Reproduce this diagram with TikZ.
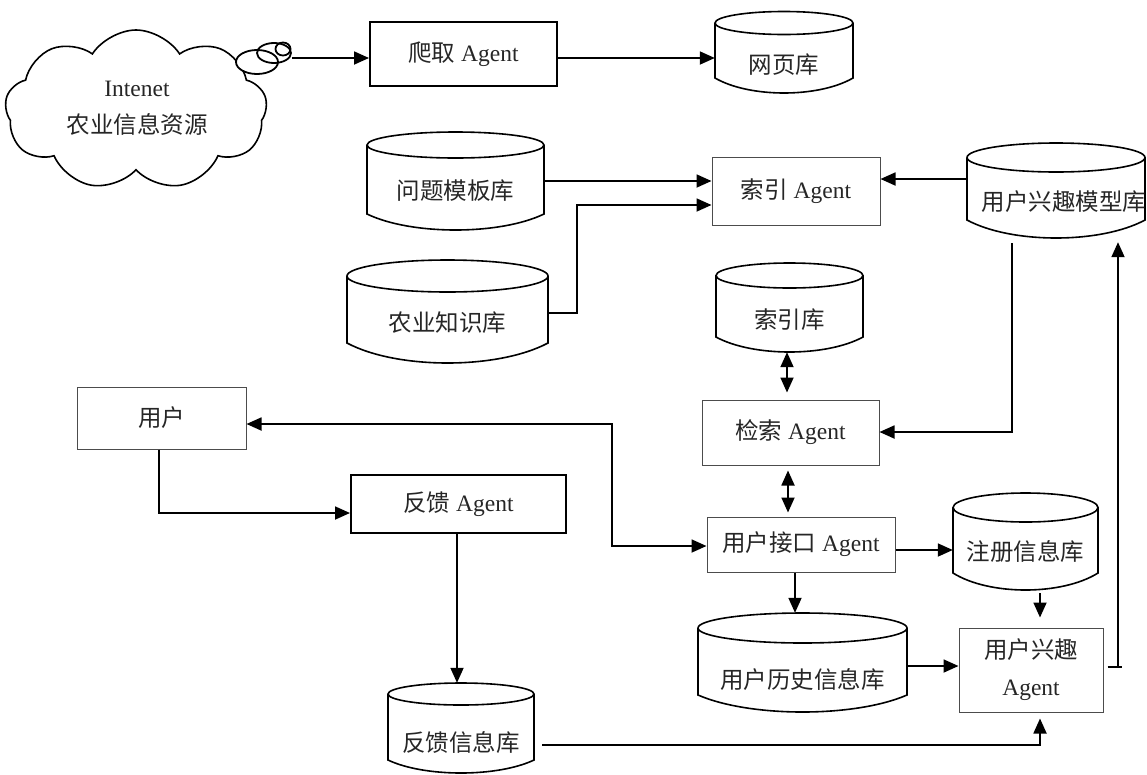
\documentclass[tikz,border=0pt]{standalone}
\usepackage{fontspec}
\setmainfont{Liberation Serif}
\newfontfamily\cjk{Noto Sans CJK SC}
\usetikzlibrary{arrows.meta,shapes.symbols,calc}
\newcommand\zh[1]{{\cjk #1}}
% #1 name, #2 x1, #3 x2, #4 ellipse centre y, #5 ry, #6 side bottom y, #7 arc bottom y, #8 text y, #9 text
\newcommand\dbcyl[9]{%
  \draw[cylline] ({(#2+#3)/2},#4) ellipse [x radius={((#3)-(#2))/2*1pt}, y radius={(#5)*1pt}];
  \draw[cylline] (#2,#4) -- (#2,#6)
     .. controls ({#2+(#3-#2)/4},{#6+4*(#7-#6)/3}) and ({#3-(#3-#2)/4},{#6+4*(#7-#6)/3}) .. (#3,#6)
     -- (#3,#4);
  \node[inner sep=0pt, minimum width={((#3)-(#2))*1pt}, minimum height={((#7)-(#4)+(#5))*1pt}] (#1)
     at ({(#2+#3)/2},{(#4-#5+#7)/2}) {};
  \node[txt] (#1-t) at ({(#2+#3)/2},#8) {#9};
}
\begin{document}
\begin{tikzpicture}[x=1pt,y=-1pt,
  txt/.style={inner sep=0pt, font=\fontsize{23.5}{37}\selectfont, text=black!85, align=center},
  thinbox/.style={txt, draw=black!70, line width=1pt},
  thickbox/.style={txt, draw=black, line width=2pt},
  cylline/.style={line width=1.6pt, black},
  line/.style={line width=1.8pt, black},
  arr/.style={line, -{Triangle[length=15pt,width=13pt]}},
  dbl/.style={line, {Triangle[length=15pt,width=13pt]}-{Triangle[length=15pt,width=13pt]}}]
\useasboundingbox (0,0) rectangle (1147,774);

% cloud
\node[cloud, draw, line width=1.6pt, cloud puffs=9, cloud puff arc=115, aspect=1.6,
      minimum width=262pt, minimum height=160pt, inner sep=0pt] (cl) at (136,110) {};
\node[txt] (clt) at (137,108) {Intenet\\\zh{农业信息资源}};
\draw[line, fill=white] (257,62) ellipse [x radius=21pt, y radius=12pt];
\draw[line] (274,53) ellipse [x radius=17pt, y radius=10pt];
\draw[line] (283,49) ellipse [x radius=7.5pt, y radius=6.5pt];
\coordinate (tip) at (292,58);

% boxes
\node[thickbox, minimum width=187pt, minimum height=64pt] (crawl) at (463.5,54) {\zh{爬取} Agent};
\node[thinbox, minimum width=168pt, minimum height=68pt] (idx) at (796,191) {\zh{索引} Agent};
\node[thinbox, minimum width=177pt, minimum height=65pt] (ret) at (790.5,432.5) {\zh{检索} Agent};
\node[thinbox, minimum width=169pt, minimum height=62pt] (user) at (161.5,418) {\zh{用户}};
\node[thickbox, minimum width=215pt, minimum height=58pt] (fb) at (458.5,504) {\zh{反馈} Agent};
\node[thinbox, minimum width=188pt, minimum height=55pt] (ui) at (801,544.5) {\zh{用户接口} Agent};
\node[thinbox, minimum width=144pt, minimum height=84pt] (uia) at (1031,670) {\zh{用户兴趣}\\Agent};

% cylinders
\dbcyl{wp}{715}{853}{23}{11.5}{78}{93}{65}{\zh{网页库}}
\dbcyl{qt}{367}{544}{145}{13}{214}{230}{191}{\zh{问题模板库}}
\dbcyl{uim}{967}{1145}{157.5}{14.5}{220}{238}{202}{}
\node[txt] (uim-t2) at (1064,202) {\zh{用户兴趣模型库}};
\dbcyl{ag}{347}{548}{276}{16}{343}{363}{323}{\zh{农业知识库}}
\dbcyl{ixl}{716}{863}{275.5}{12.5}{337}{352}{320}{\zh{索引库}}
\dbcyl{reg}{953}{1098}{507.5}{14.5}{573}{590}{552}{\zh{注册信息库}}
\dbcyl{hist}{698}{907}{628}{15}{695}{712}{680}{\zh{用户历史信息库}}
\dbcyl{fbl}{388}{534}{694}{11}{760}{773}{742}{\zh{反馈信息库}}

% connectors
\draw[arr] (tip) -- (crawl.west |- tip);
\draw[arr] (crawl.east |- 0,58) -- (wp.west |- 0,58);
\draw[arr] (qt.east |- 0,181) -- (idx.west |- 0,181);
\draw[arr] (ag.east |- 0,313) -| (577,205) -- (idx.west |- 0,205);
\draw[arr] (uim.west |- 0,179) -- (idx.east |- 0,179);
\draw[dbl, shorten >=7pt] (ixl.south -| 787,0) -- (ret.north -| 787,0);
\draw[arr] (1012,243) |- (ret.east |- 0,432);
\draw[dbl, shorten <=5pt, shorten >=4pt] (ret.south -| 788,0) -- (ui.north -| 788,0);
\draw[dbl] (user.east |- 0,424) -- (612,424) -- (612,546) -- (ui.west |- 0,546);
\draw[arr] (user.south -| 159,0) |- (fb.west |- 0,513);
\draw[arr] (fb.south -| 457,0) -- (fbl.north -| 457,0);
\draw[arr] (ui.east |- 0,550) -- (reg.west |- 0,550);
\draw[arr] (ui.south -| 795,0) -- (hist.north -| 795,0);
\draw[arr, shorten <=3pt, shorten >=10pt] (reg.south -| 1040,0) -- (uia.north -| 1040,0);
\draw[arr] (hist.east |- 0,666) -- (uia.west |- 0,666);
\draw[arr, shorten >=6pt] (fbl.east |- 0,745) ++(8,0) -| (uia.south -| 1040,0);
\draw[line] ($(uia.east |- 0,667)+(4,0)$) -- (1122,667);
\draw[arr, shorten >=4pt] (1118,667) -- (uim.south -| 1118,0);
\end{tikzpicture}
\end{document}
